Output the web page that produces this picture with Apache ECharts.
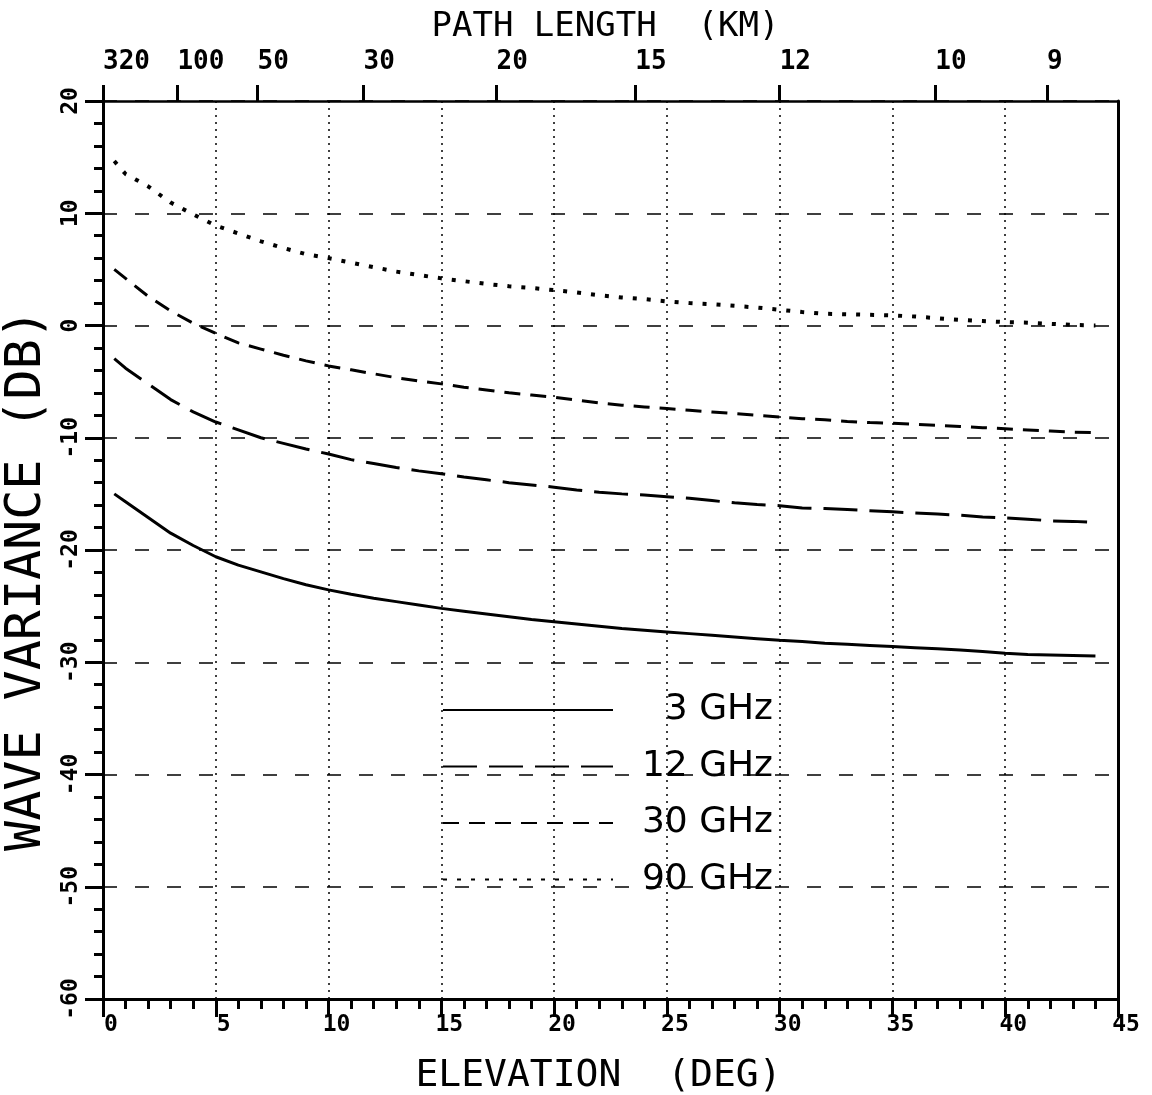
<!DOCTYPE html>
<html>
<head>
<meta charset="utf-8">
<title>Wave variance vs elevation</title>
<script src="https://cdn.jsdelivr.net/npm/echarts@6/dist/echarts.min.js"></script>
<style>
  html, body { margin: 0; padding: 0; background: #fff; }
  #chart { width: 1152px; height: 1095px; }
</style>
</head>
<body>
<div id="chart"></div>
<script>
// elevation angle (deg) of the sampled points
const elevation = [0.5, 1, 2, 3, 4, 5, 6, 7, 8, 9, 10, 11, 12, 13, 14, 15, 16, 17, 18, 19, 20, 21, 22,
  23, 24, 25, 26, 27, 28, 29, 30, 31, 32, 33, 34, 35, 36, 37, 38, 39, 40, 41, 42, 43, 44]
// wave variance (dB) per frequency
const var3GHz = [-15.0, -15.7, -17.1, -18.5, -19.6, -20.6, -21.35, -21.95, -22.55, -23.1, -23.55, -23.95,
  -24.3, -24.6, -24.9, -25.2, -25.45, -25.7, -25.95, -26.2, -26.4, -26.6, -26.8, -27.0, -27.15, -27.3,
  -27.45, -27.6, -27.75, -27.9, -28.05, -28.15, -28.3, -28.4, -28.5, -28.6, -28.7, -28.8, -28.9, -29.05,
  -29.2, -29.3, -29.35, -29.4, -29.45]
const var12GHz = [-2.95, -3.8, -5.2, -6.6, -7.7, -8.6, -9.3, -10.0, -10.5, -11.0, -11.45, -11.95, -12.3,
  -12.65, -12.95, -13.2, -13.5, -13.75, -14.0, -14.2, -14.4, -14.65, -14.85, -15.0, -15.1, -15.25, -15.4,
  -15.6, -15.8, -15.95, -16.05, -16.25, -16.3, -16.4, -16.5, -16.6, -16.7, -16.8, -16.9, -17.05, -17.15,
  -17.25, -17.4, -17.45, -17.55]
const var30GHz = [5.0, 4.2, 2.6, 1.3, 0.2, -0.7, -1.55, -2.1, -2.65, -3.15, -3.6, -3.95, -4.3, -4.65,
  -4.95, -5.2, -5.5, -5.75, -6.0, -6.2, -6.4, -6.65, -6.9, -7.1, -7.25, -7.4, -7.55, -7.7, -7.85, -8.0,
  -8.15, -8.3, -8.4, -8.55, -8.65, -8.7, -8.8, -8.9, -9.0, -9.1, -9.2, -9.3, -9.4, -9.5, -9.55]
const var90GHz = [14.65, 13.5, 12.4, 10.95, 9.9, 8.9, 8.2, 7.5, 6.9, 6.35, 6.0, 5.6, 5.2, 4.8, 4.5, 4.2,
  3.95, 3.7, 3.5, 3.35, 3.15, 2.95, 2.7, 2.5, 2.35, 2.15, 2.0, 1.9, 1.75, 1.6, 1.4, 1.2, 1.05, 1.0, 0.95,
  0.9, 0.8, 0.65, 0.5, 0.4, 0.3, 0.25, 0.15, 0.05, 0.0]
// top axis: path length labels and the elevation where each sits
const pathLengthKm = [320, 100, 50, 30, 20, 15, 12, 10, 9]
const pathLengthElev = [0, 3.3, 6.85, 11.55, 17.45, 23.6, 30, 36.9, 41.85]

const seriesNames = ['3 GHz', '12 GHz', '30 GHz', '90 GHz']

function pairs(ys) {
  return elevation.map((x, i) => [x, ys[i]])
}

const monoFont = 'DejaVu Sans Mono'
const tickLabel = {
  color: '#000',
  fontFamily: monoFont,
  fontWeight: 'bold',
  fontSize: 23
}

let mychart = echarts.init(document.getElementById('chart'), null, {renderer: 'canvas'})
let option = {
  backgroundColor: '#fff',
  animation: false,
  grid: {
    left: 103,
    right: 34,
    top: 101,
    bottom: 96,
    containLabel: false,
    outerBoundsMode: 'none'
  },
  legend: {
    orient: 'vertical',
    left: 437,
    top: 687,
    itemWidth: 170,
    itemHeight: 20,
    itemGap: 20.5,
    data: seriesNames,
    formatter: '{t|{name}}',
    // hide the round marker ECharts puts on line-series legend icons
    itemStyle: {color: 'transparent', borderColor: 'transparent', borderWidth: 0, opacity: 0},
    textStyle: {
      color: '#000',
      rich: {
        t: {
          width: 155,
          align: 'right',
          fontFamily: 'DejaVu Sans',
          fontSize: 36,
          lineHeight: 30,
          color: '#000'
        }
      }
    }
  },
  xAxis: [
    {
      type: 'value',
      position: 'bottom',
      min: 0,
      max: 45,
      interval: 5,
      name: 'ELEVATION  (DEG)',
      nameLocation: 'middle',
      nameGap: 58,
      nameTextStyle: {color: '#000', fontFamily: monoFont, fontSize: 38, verticalAlign: 'top', padding: [0, 24, 0, 0]},
      axisLine: {show: true, onZero: false, lineStyle: {color: '#000', width: 3}},
      axisTick: {show: true, inside: false, length: 18, lineStyle: {color: '#000', width: 3}},
      minorTick: {show: true, splitNumber: 5, length: 10, lineStyle: {color: '#000', width: 3}},
      axisLabel: Object.assign({margin: 15, showMinLabel: true, showMaxLabel: true, padding: [0, 0, 0, 16]}, tickLabel),
      splitLine: {show: true, lineStyle: {color: '#000', width: 1.5, type: [2, 5]}}
    },
    {
      type: 'value',
      position: 'top',
      min: 0,
      max: 45,
      name: 'PATH LENGTH  (KM)',
      nameLocation: 'middle',
      nameGap: 57,
      nameTextStyle: {color: '#000', fontFamily: monoFont, fontSize: 34, padding: [0, 10, 0, 0]},
      axisLine: {show: true, onZero: false, lineStyle: {color: '#000', width: 2.5}},
      axisTick: {show: true, inside: false, length: 16, customValues: pathLengthElev, lineStyle: {color: '#000', width: 3}},
      axisLabel: Object.assign({
        margin: 26,
        align: 'left',
        customValues: pathLengthElev,
        formatter: function (v) {
          let i = pathLengthElev.indexOf(v)
          return i >= 0 ? String(pathLengthKm[i]) : ''
        }
      }, tickLabel, {fontSize: 26}),
      splitLine: {show: false}
    }
  ],
  yAxis: [
    {
      type: 'value',
      position: 'left',
      min: -60,
      max: 20,
      interval: 10,
      name: 'WAVE VARIANCE (DB)',
      nameLocation: 'middle',
      nameGap: 48,
      nameRotate: 90,
      nameTextStyle: {color: '#000', fontFamily: monoFont, fontSize: 50, padding: [0, 60, 0, 0]},
      axisLine: {show: true, onZero: false, lineStyle: {color: '#000', width: 3}},
      axisTick: {show: true, inside: false, length: 18, lineStyle: {color: '#000', width: 3}},
      minorTick: {show: true, splitNumber: 5, length: 9, lineStyle: {color: '#000', width: 3}},
      axisLabel: Object.assign({margin: 20, rotate: 90, showMinLabel: true, showMaxLabel: true}, tickLabel),
      splitLine: {show: true, lineStyle: {color: '#000', width: 1.5, type: [14, 18]}}
    },
    {
      type: 'value',
      position: 'right',
      min: -60,
      max: 20,
      interval: 10,
      axisLine: {show: true, onZero: false, lineStyle: {color: '#000', width: 3}},
      axisTick: {show: false},
      axisLabel: {show: false},
      splitLine: {show: false}
    }
  ],
  series: [
    {
      name: seriesNames[0],
      type: 'line',
      symbol: 'none',
      data: pairs(var3GHz),
      itemStyle: {color: '#000'},
      lineStyle: {color: '#000', width: 3, type: 'solid'}
    },
    {
      name: seriesNames[1],
      type: 'line',
      symbol: 'none',
      data: pairs(var12GHz),
      itemStyle: {color: '#000'},
      lineStyle: {color: '#000', width: 3, type: [34, 12]}
    },
    {
      name: seriesNames[2],
      type: 'line',
      symbol: 'none',
      data: pairs(var30GHz),
      itemStyle: {color: '#000'},
      lineStyle: {color: '#000', width: 3, type: [16, 10]}
    },
    {
      name: seriesNames[3],
      type: 'line',
      symbol: 'none',
      data: pairs(var90GHz),
      itemStyle: {color: '#000'},
      lineStyle: {color: '#000', width: 4, type: [4, 10]}
    }
  ]
}
mychart.setOption(option)
</script>
</body>
</html>
